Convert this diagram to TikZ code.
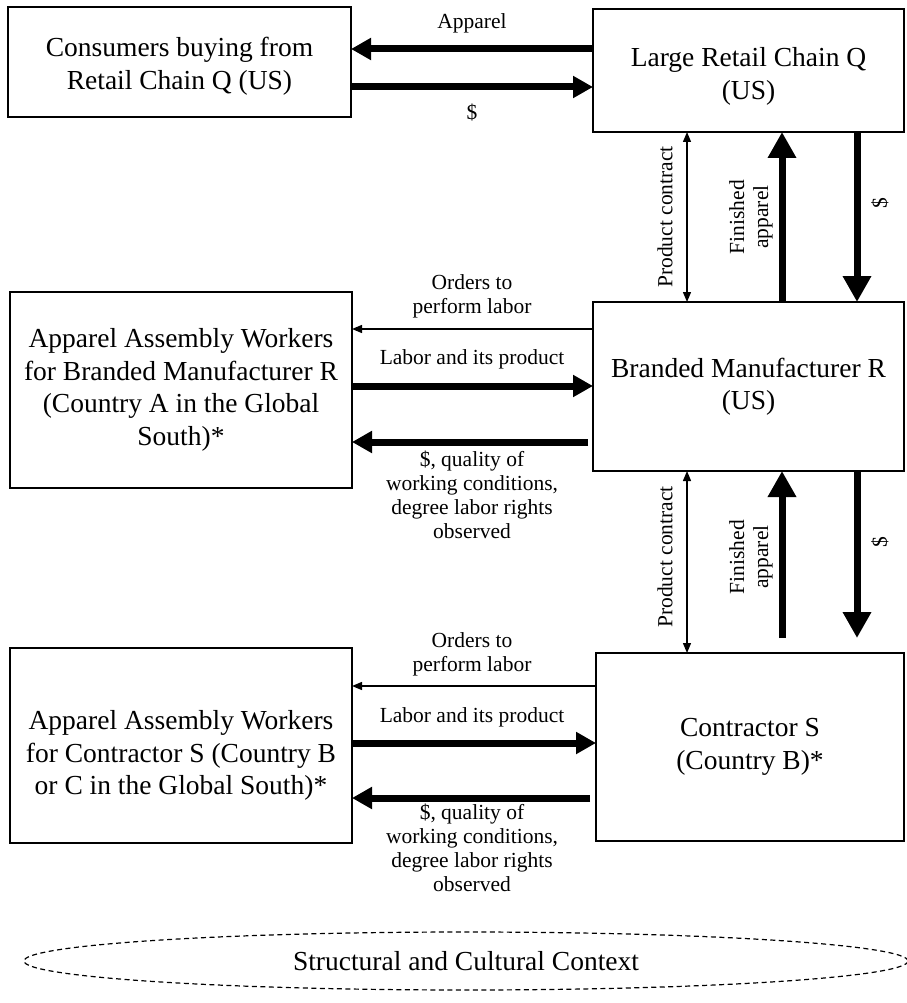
\documentclass[tikz,border=0pt]{standalone}
\usepackage{fontspec}
\setmainfont{Liberation Serif}
\usetikzlibrary{arrows.meta,shapes.geometric}
\newcommand\boxfont{\fontsize{27.5}{32.5}\selectfont}
\newcommand\lblfont{\fontsize{21.5}{24}\selectfont}
\tikzset{
  box/.style={draw, line width=2.6pt, inner sep=0pt, outer sep=0pt, align=center, font=\boxfont},
  boxtxt/.style={font=\boxfont, align=center, inner sep=0pt},
  fat/.style={line width=7pt, -{Triangle[length=20pt,width=21pt]}},
  fatv/.style={line width=7pt, -{Triangle[length=26pt,width=27pt]}},
  slim/.style={line width=1.3pt, -{Triangle[length=10pt,width=8pt]}},
  slimboth/.style={line width=1.3pt, {Triangle[length=10pt,width=8pt]}-{Triangle[length=10pt,width=8pt]}},
  lbl/.style={font=\lblfont, align=center, inner sep=0pt},
  ctxshape/.style={draw, ellipse, line width=1.2pt, dash pattern=on 5pt off 3.5pt, font=\boxfont, inner sep=0pt}
}
\begin{document}
\begin{tikzpicture}[x=1pt,y=-1pt]
\useasboundingbox (0,0) rectangle (906,1003);
% boxes
\node[box, minimum width=343pt, minimum height=110pt,
  label={[boxtxt, yshift=-4pt]center:{Consumers buying from\\Retail Chain Q (US)}}] (cons) at (179.5,62) {};
\node[box, minimum width=311pt, minimum height=123pt,
  label={[boxtxt, yshift=-6pt]center:{Large Retail Chain Q\\(US)}}] (retail) at (748.5,70.5) {};
\node[box, minimum width=342pt, minimum height=196pt] (wR) at (181,390) {Apparel Assembly Workers\\for Branded Manufacturer R\\(Country A in the Global\\South)*};
\node[box, minimum width=311pt, minimum height=169pt] (brand) at (748.5,386.5) {Branded Manufacturer R\\(US)};
\node[box, minimum width=342pt, minimum height=195pt,
  label={[boxtxt, yshift=-10pt]center:{Apparel Assembly Workers\\for Contractor S (Country B\\or C in the Global South)*}}] (wS) at (181,745.5) {};
\node[box, minimum width=308pt, minimum height=188pt] (contr) at (750,747) {Contractor S\\(Country B)*};
\node[ctxshape, minimum width=884pt, minimum height=58pt] (ctx) at (466,961) {Structural and Cultural Context};
% helper rows / columns
\coordinate (r1) at (0,49);
\coordinate (r2) at (0,87);
\coordinate (r3) at (0,329);
\coordinate (r4) at (0,386);
\coordinate (r5) at (0,442);
\coordinate (r6) at (0,686);
\coordinate (r7) at (0,743);
\coordinate (r8) at (0,798);
\coordinate (c1) at (687,0);
\coordinate (c2) at (782,0);
\coordinate (c3) at (857,0);
% horizontal connectors
\draw[fat] (retail.west |- r1) -- (cons.east |- r1);
\draw[fat] (cons.east |- r2) -- (retail.west |- r2);
\draw[slim] (brand.west |- r3) -- (wR.east |- r3);
\draw[fat] (wR.east |- r4) -- (brand.west |- r4);
\draw[fat, shorten <=5pt] (brand.west |- r5) -- (wR.east |- r5);
\draw[slim] (contr.west |- r6) -- (wS.east |- r6);
\draw[fat] (wS.east |- r7) -- (contr.west |- r7);
\draw[fat, shorten <=6pt] (contr.west |- r8) -- (wS.east |- r8);
% vertical connectors
\draw[slimboth] (retail.south -| c1) -- (brand.north -| c1);
\draw[fatv] (brand.north -| c2) -- (retail.south -| c2);
\draw[fatv] (retail.south -| c3) -- (brand.north -| c3);
\draw[slimboth] (brand.south -| c1) -- (contr.north -| c1);
\draw[fatv, shorten <=15pt] (contr.north -| c2) -- (brand.south -| c2);
\draw[fatv, shorten >=15pt] (brand.south -| c3) -- (contr.north -| c3);
% labels
\node[lbl] (l1) at (472,23) {Apparel};
\node[lbl] (l2) at (472,113) {\$};
\node[lbl] (l3) at (472,296) {Orders to\\perform labor};
\node[lbl] (l4) at (472,359) {Labor and its product};
\node[lbl] (l5) at (472,495) {\$, quality of\\working conditions,\\degree labor rights\\observed};
\node[lbl] (l6) at (472,654) {Orders to\\perform labor};
\node[lbl] (l7) at (472,717) {Labor and its product};
\node[lbl] (l8) at (472,848) {\$, quality of\\working conditions,\\degree labor rights\\observed};
\node[lbl, rotate=90] (v1) at (665,217) {Product contract};
\node[lbl, rotate=90] (v2) at (751,217) {Finished\\apparel};
\node[lbl, rotate=90] (v3) at (880,203) {\$};
\node[lbl, rotate=90] (v4) at (665,557) {Product contract};
\node[lbl, rotate=90] (v5) at (751,557) {Finished\\apparel};
\node[lbl, rotate=90] (v6) at (880,542) {\$};
\end{tikzpicture}
\end{document}
